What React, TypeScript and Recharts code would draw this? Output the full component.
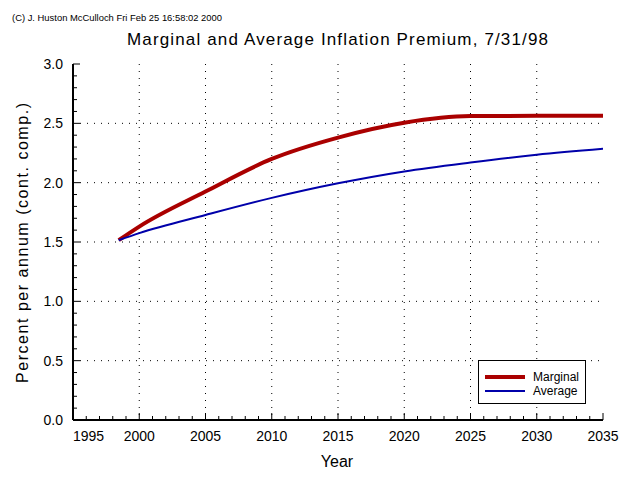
import React from 'react';
import { LineChart, Line, XAxis, YAxis, CartesianGrid, Legend } from 'recharts';

// (7/31/98 curve)
const years = [1998.45, 2000, 2005, 2010, 2015, 2020, 2025, 2030, 2035];
const marginal = [1.515, 1.63, 1.925, 2.2, 2.38, 2.505, 2.561, 2.563, 2.563];
const average = [1.515, 1.575, 1.728, 1.872, 1.995, 2.095, 2.17, 2.235, 2.285];

const yearLabels = [1995, 2000, 2005, 2010, 2015, 2020, 2025, 2030, 2035];
const valueLabels = ['0.0', '0.5', '1.0', '1.5', '2.0', '2.5', '3.0'];
const gridYears = [2000, 2005, 2010, 2015, 2020, 2025, 2030];
const gridValues = [0.5, 1, 1.5, 2, 2.5];
const legendOrder = ['Marginal', 'Average'];

const xTicks = Array.from({ length: 41 }, (_, i) => 1995 + i);
const yTicks = Array.from({ length: 31 }, (_, i) => i / 10);

const data = years.map((year, i) => ({ year, marginal: marginal[i], average: average[i] }));

const RED = '#aa0000';
const BLUE = '#0000aa';
const FONT = '"Liberation Sans", Arial, sans-serif';

const isMajorX = (v: number) => yearLabels.includes(v);
const yLabel = (v: number) => {
  const s = v.toFixed(1);
  return valueLabels.includes(s) ? s : null;
};

function BottomTick({ x, y, payload }: any) {
  const v = payload.value;
  const major = isMajorX(v);
  return (
    <g>
      <line x1={x} x2={x} y1={y} y2={y - (major ? 7 : 4)} stroke="#000" />
      {major && (
        <text x={x} y={y + 21} textAnchor={v === 1995 ? 'start' : 'middle'} fontSize={14} fontFamily={FONT} fill="#000">
          {v}
        </text>
      )}
    </g>
  );
}

function TopTick({ x, y, payload }: any) {
  const major = isMajorX(payload.value);
  return <line x1={x} x2={x} y1={y} y2={y + (major ? 7 : 4)} stroke="#000" />;
}

function LeftTick({ x, y, payload }: any) {
  const label = yLabel(payload.value);
  return (
    <g>
      <line x1={x} x2={x + (label ? 7 : 4)} y1={y} y2={y} stroke="#000" />
      {label && (
        <text x={x - 10} y={y + 5} textAnchor="end" fontSize={14} fontFamily={FONT} fill="#000">
          {label}
        </text>
      )}
    </g>
  );
}

function RightTick({ x, y, payload }: any) {
  const label = yLabel(payload.value);
  return <line x1={x} x2={x - (label ? 7 : 4)} y1={y} y2={y} stroke="#000" />;
}

function LegendBox({ payload }: any) {
  const items = [...(payload || [])].sort(
    (a: any, b: any) => legendOrder.indexOf(a.value) - legendOrder.indexOf(b.value)
  );
  return (
    <div style={{ border: '1px solid #000', background: '#fff', width: 108, height: 44, boxSizing: 'border-box', padding: '9px 0 0 6px' }}>
      {items.map((p: any) => (
        <div key={p.value} style={{ display: 'flex', alignItems: 'center', height: 14, fontFamily: FONT, fontSize: 12 }}>
          <svg width={40} height={6} style={{ marginRight: 8 }}>
            <line x1={0} x2={40} y1={3} y2={3} stroke={p.color} strokeWidth={p.value === 'Marginal' ? 4 : 2} />
          </svg>
          <span>{p.value}</span>
        </div>
      ))}
    </div>
  );
}

export default function App() {
  return (
    <div style={{ position: 'absolute', left: 0, top: 0, width: 640, height: 480, background: '#fff' }}>
      <LineChart width={640} height={480} data={data} margin={{ top: 64, right: 37, bottom: 30, left: 13 }}>
        <CartesianGrid
          stroke="#000"
          strokeDasharray="1 6"
          verticalValues={gridYears}
          horizontalValues={gridValues}
        />
        <XAxis
          dataKey="year"
          type="number"
          domain={[1995, 2035]}
          allowDataOverflow
          ticks={xTicks}
          interval={0}
          tickSize={0}
          tickMargin={0}
          tickLine={false}
          tick={BottomTick}
          axisLine={{ stroke: '#000', strokeWidth: 2 }}
          height={30}
        />
        <XAxis
          xAxisId="top"
          orientation="top"
          dataKey="year"
          type="number"
          domain={[1995, 2035]}
          allowDataOverflow
          ticks={xTicks}
          interval={0}
          tickSize={0}
          tickMargin={0}
          tickLine={false}
          tick={TopTick}
          axisLine={{ stroke: '#000', strokeWidth: 2 }}
          height={0}
        />
        <YAxis
          type="number"
          domain={[0, 3]}
          allowDataOverflow
          ticks={yTicks}
          interval={0}
          tickSize={0}
          tickMargin={0}
          tickLine={false}
          tick={LeftTick}
          axisLine={{ stroke: '#000', strokeWidth: 2 }}
          width={60}
        />
        <YAxis
          yAxisId="right"
          orientation="right"
          type="number"
          domain={[0, 3]}
          allowDataOverflow
          ticks={yTicks}
          interval={0}
          tickSize={0}
          tickMargin={0}
          tickLine={false}
          tick={RightTick}
          axisLine={{ stroke: '#000', strokeWidth: 2 }}
          width={0}
        />
        <Line
          type="monotone"
          dataKey="marginal"
          name="Marginal"
          stroke={RED}
          strokeWidth={4}
          dot={false}
          isAnimationActive={false}
        />
        <Line
          type="monotone"
          dataKey="average"
          name="Average"
          stroke={BLUE}
          strokeWidth={2}
          dot={false}
          isAnimationActive={false}
        />
        <Legend
          layout="horizontal"
          verticalAlign="middle"
          align="center"
          content={LegendBox}
          wrapperStyle={{ left: 478, top: 360, width: 108, height: 44 }}
        />
      </LineChart>
      <svg width={640} height={480} style={{ position: 'absolute', left: 0, top: 0, pointerEvents: 'none' }}>
        <text x={12} y={21} fontSize={9} fontFamily={FONT} textLength={210} lengthAdjust="spacingAndGlyphs" fill="#000">
          (C) J. Huston McCulloch Fri Feb 25 16:58:02 2000
        </text>
        <text x={337.5} y={45} textAnchor="middle" fontSize={17} fontFamily={FONT} textLength={421} fill="#000">
          Marginal and Average Inflation Premium, 7/31/98
        </text>
        <text
          x={22}
          y={243}
          transform="rotate(-90 22 243)"
          dy={6}
          textAnchor="middle"
          fontSize={16}
          fontFamily={FONT}
          textLength={280}
          fill="#000"
        >
          Percent per annum (cont. comp.)
        </text>
        <text x={337} y={467} textAnchor="middle" fontSize={16} fontFamily={FONT} fill="#000">
          Year
        </text>
      </svg>
    </div>
  );
}
